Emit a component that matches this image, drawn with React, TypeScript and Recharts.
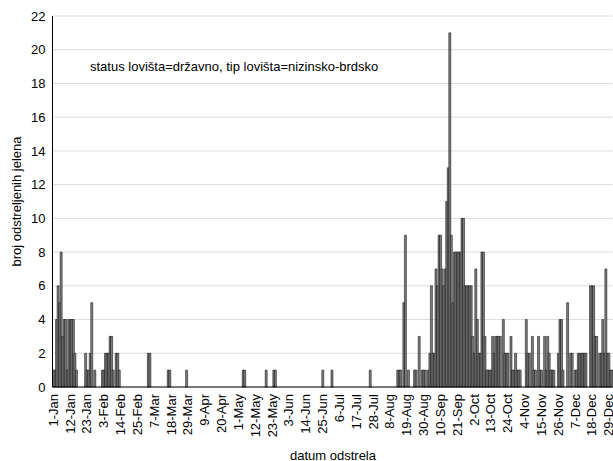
import { Bar, BarChart, CartesianGrid, XAxis, YAxis } from "recharts";

const MONTHS = ["Jan", "Feb", "Mar", "Apr", "May", "Jun", "Jul", "Aug", "Sep", "Oct", "Nov", "Dec"];

// daily counts, leap year (Feb has 29 days)
const jan = [1, 1, 4, 6, 5, 8, 3, 4, 4, 1, 4, 4, 4, 4, 2, 1, 0, 0, 0, 0, 0, 2, 1, 1, 2, 5, 0, 1, 0, 0, 0];
const feb = [0, 1, 1, 2, 2, 2, 3, 3, 1, 0, 2, 2, 1, 0, 0, 0, 0, 0, 0, 0, 0, 0, 0, 0, 0, 0, 0, 0, 0];
const mar = [0, 0, 2, 2, 0, 0, 0, 0, 0, 0, 0, 0, 0, 0, 0, 1, 1, 0, 0, 0, 0, 0, 0, 0, 0, 0, 0, 1, 0, 0, 0];
const apr = [0, 0, 0, 0, 0, 0, 0, 0, 0, 0, 0, 0, 0, 0, 0, 0, 0, 0, 0, 0, 0, 0, 0, 0, 0, 0, 0, 0, 0, 0];
const may = [0, 0, 0, 1, 1, 0, 0, 0, 0, 0, 0, 0, 0, 0, 0, 0, 0, 0, 1, 0, 0, 0, 0, 1, 1, 0, 0, 0, 0, 0, 0];
const jun = [0, 0, 0, 0, 0, 0, 0, 0, 0, 0, 0, 0, 0, 0, 0, 0, 0, 0, 0, 0, 0, 0, 0, 0, 1, 0, 0, 0, 0, 0];
const jul = [1, 0, 0, 0, 0, 0, 0, 0, 0, 0, 0, 0, 0, 0, 0, 0, 0, 0, 0, 0, 0, 0, 0, 0, 0, 1, 0, 0, 0, 0, 0];
const aug = [0, 0, 0, 0, 0, 0, 0, 0, 0, 0, 0, 0, 1, 1, 1, 0, 5, 9, 0, 1, 0, 0, 0, 1, 1, 0, 3, 0, 1, 1, 1];
const sep = [0, 1, 2, 6, 2, 2, 7, 6, 9, 9, 7, 6, 7, 11, 13, 21, 9, 5, 8, 8, 8, 8, 8, 10, 10, 6, 6, 6, 6, 6];
const oct = [3, 2, 7, 4, 2, 2, 8, 8, 3, 1, 1, 1, 1, 3, 2, 3, 3, 3, 3, 0, 4, 2, 2, 2, 0, 3, 1, 1, 2, 1, 1];
const nov = [1, 0, 0, 0, 4, 2, 2, 0, 3, 1, 1, 0, 3, 1, 1, 0, 3, 1, 3, 2, 1, 1, 1, 0, 0, 2, 4, 4, 1, 0];
const dec = [0, 5, 0, 2, 2, 0, 1, 1, 2, 2, 2, 2, 2, 2, 0, 0, 6, 6, 6, 3, 3, 0, 2, 2, 4, 2, 7, 2, 2, 1, 1];

const monthCounts = [jan, feb, mar, apr, may, jun, jul, aug, sep, oct, nov, dec];

const yTicks = [0, 2, 4, 6, 8, 10, 12, 14, 16, 18, 20, 22];
// minor frame ticks every 15 days (top and bottom)
const frameTicks = [15, 30, 45, 60, 75, 90, 105, 120, 135, 150, 165, 180, 195, 210, 225, 240, 255, 270, 285, 300, 315, 330, 345, 360];

const data = monthCounts.flatMap((arr, m) =>
  arr.map((count, d) => ({ label: `${d + 1}-${MONTHS[m]}`, count })),
).map((row, i) => ({ ...row, pos: i + 0.5 }));

const FONT = "'Liberation Sans', Arial, sans-serif";

const DateTick = (props: any) => {
  const { x, y, payload } = props;
  return (
    <g transform={`translate(${x},${y})`}>
      <text
        transform="rotate(-90)"
        x={-5}
        y={0}
        textAnchor="end"
        dominantBaseline="central"
        fontSize={13}
        fontFamily={FONT}
        fill="#000"
      >
        {payload.value}
      </text>
    </g>
  );
};

export default function App() {
  return (
    <div style={{ position: "absolute", left: 0, top: 0, width: 613, height: 461, background: "#fff" }}>
      <BarChart
        width={613}
        height={461}
        data={data}
        margin={{ top: 16, right: 0.5, bottom: 0, left: 0 }}
        barCategoryGap={0}
        barGap={0}
      >
        <CartesianGrid vertical={false} stroke="#dcdcdc" yAxisId="left" />
        <XAxis
          xAxisId="bottomTicks"
          type="number"
          dataKey="pos"
          domain={[0, 366]}
          ticks={frameTicks}
          orientation="bottom"
          mirror
          height={0}
          axisLine={false}
          tickSize={4}
          tickLine={{ stroke: "#000" }}
          tickFormatter={() => ""}
        />
        <XAxis
          dataKey="label"
          interval={10}
          height={74}
          axisLine={{ stroke: "#000" }}
          tickLine={false}
          tickSize={0}
          tick={<DateTick />}
          label={{
            content: () => (
              <text x={333} y={455} textAnchor="middle" dominantBaseline="central" fontSize={13} fontFamily={FONT} fill="#000">
                datum odstrela
              </text>
            ),
          }}
        />
        <XAxis
          xAxisId="topTicks"
          type="number"
          dataKey="pos"
          domain={[0, 366]}
          ticks={frameTicks}
          orientation="top"
          mirror
          height={0}
          axisLine={{ stroke: "#000" }}
          tickSize={4}
          tickLine={{ stroke: "#000" }}
          tickFormatter={() => ""}
        />
        <YAxis
          yAxisId="left"
          domain={[0, 22]}
          ticks={yTicks}
          width={52.5}
          axisLine={{ stroke: "#000" }}
          tickLine={false}
          tickSize={0}
          tickMargin={7}
          tick={{ fontSize: 13, fontFamily: FONT, fill: "#000" }}
          label={{
            content: () => (
              <text
                x={16.7}
                y={201.5}
                transform="rotate(-90 16.7 201.5)"
                textAnchor="middle"
                dominantBaseline="central"
                fontSize={13}
                fontFamily={FONT}
                fill="#000"
              >
                broj odstreljenih jelena
              </text>
            ),
          }}
        />
        <YAxis
          yAxisId="right"
          orientation="right"
          domain={[0, 22]}
          ticks={yTicks}
          width={0}
          mirror
          axisLine={{ stroke: "#000" }}
          tickSize={4}
          tickLine={{ stroke: "#000" }}
          tickFormatter={() => ""}
        />
        <Bar
          dataKey="count"
          yAxisId="left"
          fill="#7f7f7f"
          stroke="#000"
          strokeWidth={0.5}
          isAnimationActive={false}
        />
      </BarChart>
      <div
        style={{
          position: "absolute",
          left: 90,
          top: 59,
          fontFamily: FONT,
          fontSize: 13,
          lineHeight: "16px",
          color: "#000",
          whiteSpace: "nowrap",
        }}
      >
        status lovišta=državno, tip lovišta=nizinsko-brdsko
      </div>
    </div>
  );
}
